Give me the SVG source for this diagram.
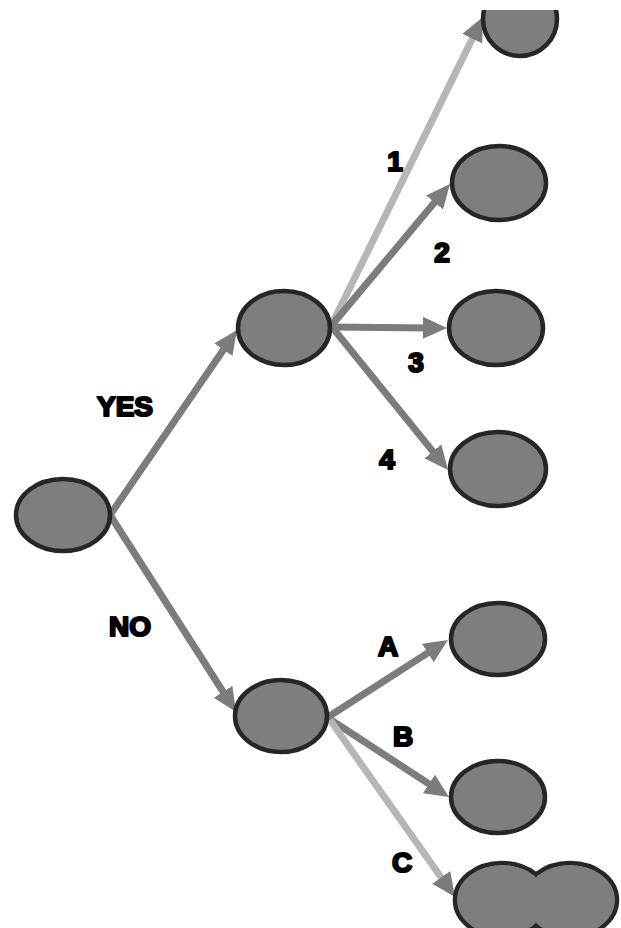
<svg xmlns="http://www.w3.org/2000/svg" width="621" height="928" viewBox="0 0 621 928">
<style>
.node{fill:#7e7e7e;stroke:#262626;stroke-width:4.5}
.fillonly{fill:#7e7e7e;stroke:none}
.arrow{stroke:#7c7c7c;stroke-width:7;fill:none;marker-end:url(#head)}
.arrow.light{stroke:#b6b6b6}
.lbl{font-family:"Liberation Sans",Arial,sans-serif;font-weight:bold;font-size:28px;fill:#000;stroke:#000;stroke-width:2.2;stroke-linejoin:round;text-anchor:middle}
</style>
<defs>
<marker id="head" markerUnits="userSpaceOnUse" markerWidth="26" markerHeight="24" refX="8" refY="11" orient="auto" viewBox="0 0 26 24">
<path d="M0,0 L24,11 L0,22 z" fill="#7c7c7c"/>
</marker>
<clipPath id="topclip"><rect x="0" y="10" width="621" height="918"/></clipPath>
</defs>
<rect width="621" height="928" fill="#ffffff"/>
<g id="connectors">
<line class="arrow" x1="110" y1="515" x2="227.9" y2="343.2"/>
<line class="arrow" x1="110" y1="515" x2="227.4" y2="698.5"/>
<line class="arrow light" x1="333" y1="322" x2="475.9" y2="31.4"/>
<line class="arrow" x1="332" y1="325" x2="439.7" y2="196.3"/>
<line class="arrow" x1="332" y1="327" x2="431" y2="327.9"/>
<line class="arrow" x1="332" y1="327" x2="437.9" y2="457.6"/>
<line class="arrow" x1="328" y1="717" x2="434.5" y2="648.6"/>
<line class="arrow" x1="328" y1="718" x2="435.6" y2="788.3"/>
<line class="arrow light" x1="330" y1="720" x2="445.8" y2="883.9"/>
</g>
<g id="node-root"><ellipse class="node" cx="63" cy="515" rx="47" ry="36"/></g>
<g id="node-yes"><ellipse class="node" cx="284" cy="328" rx="46" ry="37"/></g>
<g id="node-no"><ellipse class="node" cx="281" cy="716" rx="46" ry="36"/></g>
<g id="node-1"><ellipse class="node" cx="520" cy="19" rx="37" ry="37" clip-path="url(#topclip)"/></g>
<g id="node-2"><ellipse class="node" cx="499" cy="183" rx="47" ry="37"/></g>
<g id="node-3"><ellipse class="node" cx="496" cy="328" rx="47" ry="37"/></g>
<g id="node-4"><ellipse class="node" cx="498" cy="469" rx="48" ry="37"/></g>
<g id="node-a"><ellipse class="node" cx="498" cy="639" rx="47" ry="36"/></g>
<g id="node-b"><ellipse class="node" cx="498" cy="797" rx="47" ry="36"/></g>
<g id="node-c">
<ellipse class="node" cx="502" cy="900" rx="47" ry="37"/>
<ellipse class="node" cx="570" cy="900" rx="47" ry="37"/>
<ellipse class="fillonly" cx="502" cy="900" rx="45" ry="35"/>
<ellipse class="fillonly" cx="570" cy="900" rx="45" ry="35"/>
</g>
<g id="labels">
<text class="lbl" x="125" y="416">YES</text>
<text class="lbl" x="130" y="636">NO</text>
<text class="lbl" x="395" y="171">1</text>
<text class="lbl" x="442" y="262">2</text>
<text class="lbl" x="416" y="372">3</text>
<text class="lbl" x="387" y="469">4</text>
<text class="lbl" x="388" y="656">A</text>
<text class="lbl" x="403" y="746">B</text>
<text class="lbl" x="402" y="872">C</text>
</g>
</svg>
